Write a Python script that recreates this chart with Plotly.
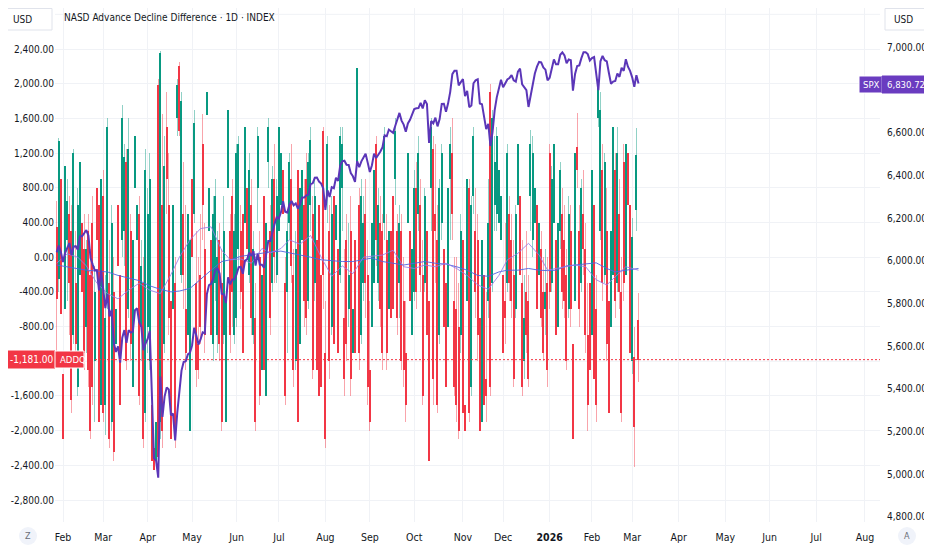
import pandas as pd
import plotly.graph_objects as go

# NASD advance/decline difference (ADDQ), daily OHLC
# trading days 2025-01-29 .. 2026-03-05
addq_open = [
    350, -250, 900,
    -1350, -600, 200, 500, 300, -900, -300, -1500, -200, 400, 100, -800, 300, -200, 400, -1200, 800, 600, -1700,
    700, -1700, -500, -300, -1900, -400, -1000, 600, -200, 200, 300, 1100, -600, 300, -1500, 800, 200, 500, -800, -300, -1800,
    -800, -1200, -1700, -2200, -2350, 1980, -1900, 600, -1000, 1500, 600, -500, -600, -300, 1600, 2200, -200, 500, -600, -900, -2000,
    900, 500, -300, -1000, -200, 1300, 100, 1640, 300, 200, -1000, -300, -900, 200, -300, -900, -1900, 800, 300, 700, -900,
    -700, 100, 300, 500, 400, 800, -200, 600, -900, -700, 800, 0, -1300, 700, -1600, 1100, 300, -300, 900, -200,
    300, 600, 1000, -300, -400, 400, 900, -200, -1200, 1000, -1000, 200, 600, 900, -500, 600, 500, -300, 200, 600, -200, 1450,
    -1100, 700, 300, -800, 700, 200, 100, -200, 800, -700, 200, -600, 300, -1100, 200, 1100, 600, -900, -300, 500, -200,
    -1300, -800, -300, 1300, -300, 400, 300, 400, 200, -600, 300, 700, 900, 300, -300, 300, -500, -1100, 400, 300, -900,
    -400, 800, 500, 600, -200, -300, 300, -500, 800, 1250, 500, 200, -900, 400, 100, -300, -800, 900, 1200, -500, -600, -800, -900,
    200, -1700, -500, 800, -1500, 700, 300, 200, -700, -1900, -200, -1400, -500, 1900, -300, 600, 500, 400, 200,
    -200, -500, -300, 500, 200, -200, -600, 600, 700, -300, -1200, -400, -500, 700, 200, 400, 600, -200, 100, -400, -600, -300,
    1200, -300, 400, 200, -800, 300, 500, 200, -200, -600, 300, -1000, -500, 1270, 300, -300, 500, 100, -900, -300,
    -900, 600, -600, 1600, 300, 1000, -200, 300, -500, -800, -200, 1000, -300, 500, -400, 1100, -200, 1200, 600,
    -1200, -1150, 540, -720,
]
addq_high = [
    650, 1370, 1150,
    400, 1180, 900, 700, 600, 1250, 300, 800, 1300, 700, 500, 200, 500, 100, 700, -100, 1500, 800, 1000,
    1000, -200, 1600, 200, 600, 0, 700, 1300, 300, 1750, 1300, 1250, 1600, 500, 400, 1450, 800, 700, 200, 0, 1250,
    800, 1200, -800, -1800, 1400, 2050, 2380, 1650, 1400, 1900, 1200, -200, 800, 0, 2050, 2250, 1900, 1100, 600, 700, 500,
    1500, 1700, 300, 0, 500, 1650, 400, 1940, 1000, 500, 700, 900, 300, 400, 100, 700, -200, 1750, 500, 900, 500,
    1300, 1400, 600, 1000, 1650, 1200, 1200, 900, 300, -300, 1500, 300, 100, 900, 600, 1600, 600, 1050, 1300, 900,
    1600, 1400, 1500, 0, 500, 1200, 1300, 100, 300, 1200, 1000, 1200, 900, 1200, 1200, 1500, 700, 900, 500, 1000, 300, 1500,
    -500, 1400, 600, 700, 1300, 900, 400, 1500, 1500, 100, 500, 400, 700, 200, 500, 2350, 800, 900, 700, 900, 200,
    -500, 600, 1100, 1400, 800, 700, 500, 1500, 500, 600, 500, 1200, 1600, 500, 600, 500, 0, -500, 1300, 600, 300,
    1000, 1100, 1400, 900, 200, 800, 600, 100, 1600, 1400, 1300, 600, 900, 1300, 300, 100, 900, 1500, 1600, 0, 0, -300, 500,
    400, -1000, 1000, 900, 700, 1500, 800, 500, -300, 800, 100, -400, 900, 2000, 1700, 1400, 1500, 1200, 900,
    300, 400, 1300, 700, 500, 200, 600, 1400, 1000, 200, -200, 300, -200, 1470, 1400, 1000, 900, 600, 300, 0, 100, 0,
    1300, 1050, 1400, 500, 500, 1100, 800, 600, 100, 700, 600, -600, 1300, 1660, 600, 900, 1000, 400, -300, 300,
    1200, 800, -200, 2050, 1900, 1300, 1200, 800, -200, 500, 1650, 1200, 1500, 900, 0, 1300, 1450, 1350, 900,
    450, -800, 1490, -410,
]
addq_low = [
    -1100, -400, -900,
    -2200, -800, -500, -900, -1800, -1000, -1200, -1600, -300, -600, -1300, -1100, -1500, -2100, -1700, -1900, -300, -2000, -1800,
    -1900, -2050, -600, -2200, -2000, -2350, -1400, -300, -1800, 0, -100, -1300, -700, -1200, -1600, 300, -400, -1700, -1200, -2200, -1900,
    -1100, -1300, -2450, -2550, -2550, -2400, -2100, -2200, -1100, 500, -900, -2200, -900, -2200, 1400, 1400, -300, -600, -1300, -1000, -2100,
    -200, 400, -1500, -1400, -1000, 200, -1100, 1470, -200, -1100, -1200, -500, -1100, -1200, -2000, -1000, -2000, 600, -1100, -800, -1000,
    -800, -100, -600, -1300, 200, -200, -300, -900, -1000, -2000, 400, -1700, -1400, -1400, -1700, 800, -900, -400, -300, -300,
    0, 0, 300, -1700, -1100, 200, -300, -1500, -1300, -2000, -1200, 0, -800, -900, -600, 300, -1400, -500, -1500, -1700, -1800, -600,
    -2200, 400, -1400, -900, -1300, -400, -1300, -300, 300, -1600, -1200, -800, -1600, -1400, -1300, 700, -1300, -1000, -500, -700, -1700,
    -2000, -900, -400, -100, -500, -800, -1300, 200, -1300, -700, -900, -900, 600, -900, -700, -1300, -1500, -1900, 200, -700, -1000,
    -500, -600, 300, -400, -1700, -400, -1100, -2450, 300, -1700, -300, -1800, -1000, 200, -1000, -1700, -900, 200, 200, -1600, -1900, -2100, -1100,
    -1900, -2200, -700, -1900, -1600, 500, -700, -1200, -2100, -2000, -1800, -1900, -700, -1600, -400, 300, 300, 200, 0,
    -1300, -1000, -400, -500, -700, -1500, -700, 300, -400, -1600, -1400, -1100, -1500, 300, 0, -100, -800, -300, -800, -1200, -900, -1500,
    -600, -400, 200, -1100, -900, 100, -600, -700, -1300, -700, -800, -2200, -700, 800, -800, -400, -200, -1100, -2000, -1500,
    -1000, -1600, -1900, 1500, 200, -500, -300, -1200, -2000, -1000, -300, -700, -400, -600, -1900, -500, -300, 400, -1300,
    -1350, -2420, 300, -1440,
]
addq_close = [
    -480, 1340, -650,
    -2100, 1050, 650, -300, -1650, 1200, -1000, 600, 1100, -400, -1100, 100, -1300, -2000, -1500, -400, 200, -1900, 900,
    -1800, -700, 1500, -2100, 400, -2250, -600, -100, -1700, 1600, 1150, -1200, 1250, -1000, 200, 1400, 600, -1600, -100, -2100, 1000,
    500, 900, -2350, -2450, -1900, -2300, 2350, -2000, 1050, 900, -700, -2100, 600, -2050, 1990, 1450, 1800, -200, -1100, 500, 200,
    0, 1550, -1300, -1300, -800, 600, -900, 1900, 800, -900, 500, 700, 0, -1000, -1900, 300, -500, 1700, -900, -400, 300,
    1200, 1300, -400, -1100, 1500, 100, 1000, -700, 100, -1900, 1400, -1600, -200, -1300, 400, 1500, -700, 900, 0, 700,
    1500, 1200, 500, -1600, 300, 1100, -100, -1300, 100, -1900, 800, 1000, -500, -700, 1100, 1350, -1300, 700, -1300, -1600, -1500, -200,
    -2100, 1300, -1200, 500, -1000, 600, -1100, 1400, 1300, -1400, -1000, -200, -1400, -600, -1100, 2180, -1100, 700, 400, -300, -1500,
    -1900, 400, 1000, 200, 600, -600, -1100, 1400, -1100, 300, -700, -600, 1450, -700, 400, -1200, -1300, -1700, 1200, -500, 100,
    800, -400, 1200, -200, -1600, 700, -900, -2350, 1500, -1400, 300, -1700, 800, 1200, -800, -1500, 800, 1300, 500, -1500, -1700, -2000, 300,
    -1800, -2000, 900, -1800, 600, 1400, -400, -900, -2000, 200, -1700, -1600, 400, -1500, 1600, 1100, 1400, 1000, 700,
    -1100, -700, 1200, -300, -500, -1400, 500, 1300, -200, -1500, -700, -900, -1400, 1300, 1200, 800, -600, 400, -700, -1100, -400, -1300,
    -400, 900, 1300, -900, 400, 1000, -400, -500, -1200, 500, -600, -2100, 1200, 1000, -600, 800, 100, -900, -1700, -1300,
    1000, -1400, -1700, 1950, 1700, -300, 1100, -1000, -1800, 300, 1500, -500, 1200, -400, -1800, -300, 1300, 600, -1100,
    230, -1960, 1177, -1181,
]

# S&P 500 close (compare series, right scale)
spx_close = [
    6039, 6071, 6040,
    5994, 6037, 6061, 6083, 6026, 6066, 6068, 6052, 6115, 6115, 6129, 6144, 6118, 6013, 5983, 5955, 5956, 5861, 5955,
    5850, 5778, 5843, 5739, 5770, 5615, 5572, 5599, 5522, 5639, 5675, 5615, 5675, 5663, 5668, 5768, 5777, 5712, 5693, 5581, 5612,
    5633, 5671, 5397, 5074, 5062, 4983, 5457, 5268, 5363, 5406, 5396, 5276, 5283, 5158, 5288, 5376, 5485, 5525, 5529, 5561, 5569,
    5604, 5686, 5650, 5607, 5631, 5664, 5660, 5844, 5886, 5892, 5917, 5958, 5964, 5940, 5845, 5842, 5802, 5922, 5889, 5912, 5912,
    5936, 5970, 5971, 5939, 6000, 6006, 6039, 6022, 6045, 5977, 6033, 5982, 5981, 5967, 6025, 6092, 6092, 6141, 6173, 6205,
    6198, 6227, 6279, 6230, 6226, 6263, 6280, 6260, 6269, 6244, 6264, 6297, 6297, 6306, 6310, 6359, 6363, 6389, 6390, 6371, 6362, 6339,
    6238, 6330, 6299, 6345, 6340, 6389, 6374, 6446, 6466, 6469, 6450, 6449, 6411, 6396, 6370, 6467, 6439, 6466, 6481, 6502, 6460,
    6416, 6448, 6502, 6482, 6495, 6512, 6532, 6588, 6584, 6615, 6607, 6600, 6632, 6664, 6693, 6657, 6638, 6605, 6644, 6661, 6688,
    6711, 6715, 6716, 6740, 6714, 6753, 6735, 6552, 6655, 6644, 6671, 6630, 6664, 6735, 6736, 6699, 6738, 6792, 6875, 6891, 6891, 6822, 6840,
    6852, 6772, 6796, 6720, 6728, 6832, 6846, 6851, 6737, 6734, 6672, 6617, 6642, 6538, 6603, 6705, 6766, 6813, 6849,
    6813, 6829, 6850, 6857, 6870, 6846, 6840, 6887, 6901, 6827, 6816, 6800, 6721, 6775, 6835, 6878, 6910, 6932, 6930, 6906, 6896, 6846,
    6858, 6902, 6944, 6921, 6921, 6966, 6977, 6963, 6926, 6944, 6940, 6797, 6876, 6913, 6916, 6950, 6978, 6978, 6969, 6939,
    6950, 6955, 6880, 6800, 6935, 6960, 6940, 6935, 6880, 6830, 6840, 6843, 6878, 6862, 6905, 6890, 6945, 6910, 6890,
    6860, 6816, 6870, 6830.72,
]

# two moving averages of ADDQ
ma_dates = [
    "2025-01-29", "2025-02-05", "2025-02-12", "2025-02-19", "2025-02-26", "2025-03-05", "2025-03-12", "2025-03-19",
    "2025-03-26", "2025-04-02", "2025-04-09", "2025-04-16", "2025-04-23", "2025-04-30", "2025-05-07", "2025-05-14",
    "2025-05-21", "2025-05-28", "2025-06-04", "2025-06-11", "2025-06-18", "2025-06-25", "2025-07-02", "2025-07-09",
    "2025-07-16", "2025-07-23", "2025-07-30", "2025-08-06", "2025-08-13", "2025-08-20", "2025-08-27", "2025-09-03",
    "2025-09-10", "2025-09-17", "2025-09-24", "2025-10-01", "2025-10-08", "2025-10-15", "2025-10-22", "2025-10-29",
    "2025-11-05", "2025-11-12", "2025-11-19", "2025-11-26", "2025-12-03", "2025-12-10", "2025-12-17", "2025-12-24",
    "2025-12-31", "2026-01-07", "2026-01-14", "2026-01-21", "2026-01-28", "2026-02-04", "2026-02-11", "2026-02-18",
    "2026-02-25", "2026-03-05",
]
ma_fast = [-70, 40, 0, -100, -300, -420, -480, -380, -300, -380,
           -420, -200, 0, 200, 330, 350, 80, -30, -20, -70,
           100, 50, 100, 200, 150, 250, 0, -220, -100, -190,
           0, 10, 25, 80, -110, -130, -90, -110, -70, -130,
           -210, -320, -370, -210, -30, 45, 160, 25, -150, -130,
           -110, -90, -110, -260, -320, -225, -110, -150]
ma_slow = [-90, -110, -130, -150, -160, -170, -210, -240, -270, -330,
           -370, -400, -390, -360, -250, -150, -50, -30, 10, 30,
           50, 60, 70, 50, 30, 0, -30, -40, -50, -50,
           -30, -10, -50, -70, -90, -70, -50, -70, -80, -110,
           -150, -210, -220, -170, -150, -150, -130, -150, -155, -150,
           -100, -90, -80, -65, -130, -170, -150, -130]

holidays = ["2025-02-17", "2025-04-18", "2025-05-26", "2025-06-19", "2025-07-04", "2025-09-01",
            "2025-11-27", "2025-12-25", "2026-01-01", "2026-01-19", "2026-02-16"]

month_ticks = ["2025-02-03", "2025-03-03", "2025-04-01", "2025-05-01", "2025-06-02", "2025-07-01",
               "2025-08-01", "2025-09-02", "2025-10-01", "2025-11-03", "2025-12-01", "2026-01-02",
               "2026-02-02", "2026-03-02", "2026-04-01", "2026-05-01", "2026-06-01", "2026-07-01", "2026-08-03"]
month_labels = ["Feb", "Mar", "Apr", "May", "Jun", "Jul", "Aug", "Sep", "Oct", "Nov", "Dec", "<b>2026</b>",
                "Feb", "Mar", "Apr", "May", "Jun", "Jul", "Aug"]

left_ticks = [-2800, -2400, -2000, -1600, -800, -400, 0, 400, 800, 1200, 1600, 2000, 2400]
right_ticks = [4800, 5000, 5200, 5400, 5600, 5800, 6000, 6200, 6400, 6600, 7000]

dates = [d for d in pd.bdate_range("2025-01-29", "2026-03-05") if d.strftime("%Y-%m-%d") not in holidays]
n = min(len(dates), len(addq_close))
dates = dates[:n]
o, h, l, c = addq_open[:n], addq_high[:n], addq_low[:n], addq_close[:n]

GREEN, RED = "#089981", "#F23645"
GREEN_L, RED_L = "rgba(8,153,129,0.45)", "rgba(242,54,69,0.45)"
PURPLE = "#5b36b8"
GRID = "#f0f2f6"
FONT = "DejaVu Sans Condensed, sans-serif"
DAY = 86400000

# the page body has an 8px margin, so the figure is laid out 8px in from the window corner
OFF = 8
W, H = 932 - OFF, 550 - OFF
ML, MR, MT, MB = 55 - OFF, 52, 0, 28
PW, PH = W - ML - MR, H - MT - MB


def px(x):  # window pixel -> paper
    return (x - OFF - ML) / PW


def py(y):
    return 1 - (y - OFF - MT) / PH


up = [cc >= oo for oo, cc in zip(o, c)]

fig = go.Figure()

# wicks
fig.add_trace(go.Bar(
    x=dates, base=l, y=[hh - ll for hh, ll in zip(h, l)], width=0.32 * DAY,
    marker=dict(color=[GREEN_L if u else RED_L for u in up], line=dict(width=0)),
    showlegend=False, hoverinfo="skip"))

# bodies
fig.add_trace(go.Bar(
    x=dates, base=[min(oo, cc) for oo, cc in zip(o, c)],
    y=[abs(cc - oo) for oo, cc in zip(o, c)], width=0.62 * DAY,
    marker=dict(color=[GREEN if u else RED for u in up], line=dict(width=0)),
    showlegend=False))

fig.add_trace(go.Scatter(x=ma_dates, y=ma_slow, mode="lines",
                         line=dict(color="rgba(80,100,225,0.9)", width=1), showlegend=False))
fig.add_trace(go.Scatter(x=ma_dates, y=ma_fast, mode="lines",
                         line=dict(color="rgba(150,125,235,0.85)", width=1), showlegend=False))

fig.add_trace(go.Scatter(x=dates, y=spx_close[:n], mode="lines", yaxis="y2",
                         line=dict(color=PURPLE, width=2), showlegend=False))

fig.update_layout(
    width=W, height=H,
    margin=dict(l=ML, r=MR, t=MT, b=MB, autoexpand=False),
    paper_bgcolor="white", plot_bgcolor="white",
    font=dict(family=FONT, size=10.5, color="#131722"),
    showlegend=False, barmode="overlay", bargap=0,
    xaxis=dict(type="date", range=["2025-01-28 05:00", "2026-08-12 03:00"],
               rangebreaks=[dict(bounds=["sat", "mon"]), dict(values=holidays)],
               tickvals=month_ticks, ticktext=month_labels, automargin=False,
               showgrid=True, gridcolor=GRID, zeroline=False, showline=False,
               ticks="", ticklabelstandoff=7, tickfont=dict(size=10.5)),
    yaxis=dict(range=[-3053, 2873], tickvals=left_ticks,
               ticktext=[f"{v:,.2f}" for v in left_ticks], automargin=False,
               showgrid=True, gridcolor=GRID, zeroline=False, showline=False,
               ticks="", tickfont=dict(size=10)),
    yaxis2=dict(range=[4775, 7185], tickvals=right_ticks, tickformat=",.2f", automargin=False,
                overlaying="y", side="right", showgrid=False, zeroline=False,
                showline=False, ticks="", ticklabelstandoff=6, tickfont=dict(size=10)),
)

# grid lines whose labels sit under the tags
for gy in (2800, -1200):
    fig.add_shape(type="line", xref="paper", yref="y", x0=0, x1=1, y0=gy, y1=gy,
                  layer="below", line=dict(color=GRID, width=1))

# last-value line for ADDQ
fig.add_shape(type="line", xref="paper", yref="y", x0=0, x1=1, y0=-1181, y1=-1181,
              line=dict(color=RED, width=1, dash="2px,2px"))

shapes = [
    # USD buttons
    dict(x0=4, x1=52, y0=8.5, y1=30, fill="white", line="#e0e3eb"),
    dict(x0=885, x1=929, y0=8.5, y1=30, fill="white", line="#e0e3eb"),
    # ADDQ last value tags
    dict(x0=4, x1=55, y0=351, y1=368, fill=RED, line=RED),
    dict(x0=55, x1=84, y0=351, y1=368, fill=RED, line="white"),
    # SPX last value tags
    dict(x0=859, x1=882, y0=76, y1=93, fill="#6a3cc0", line="white"),
    dict(x0=882, x1=929, y0=76, y1=93, fill="#6a3cc0", line="#6a3cc0"),
]
for s in shapes:
    fig.add_shape(type="rect", xref="paper", yref="paper", layer="above",
                  x0=px(s["x0"]), x1=px(s["x1"]), y0=py(s["y1"]), y1=py(s["y0"]),
                  fillcolor=s["fill"], line=dict(color=s["line"], width=1))

for cx in (28, 907):
    fig.add_shape(type="circle", xref="paper", yref="paper", layer="above",
                  x0=px(cx - 9), x1=px(cx + 9), y0=py(545), y1=py(527),
                  fillcolor="#f0f3fa", line=dict(width=0))

texts = [
    (62, 17, "NASD Advance Decline Difference · 1D · INDEX", "left", "#131722", 10),
    (11, 19, "USD", "left", "#131722", 10),
    (892, 19, "USD", "left", "#131722", 10),
    (8, 359.5, "-1,181.00", "left", "white", 10),
    (57.5, 359.5, "ADDQ", "left", "white", 9.5),
    (861, 84.5, "SPX", "left", "white", 9.5),
    (885, 84.5, "6,830.72", "left", "white", 9.5),
    (28, 536, "Z", "center", "#6a6d78", 9),
    (907, 536, "A", "center", "#6a6d78", 9),
]
for x, y, t, anchor, col, size in texts:
    fig.add_annotation(x=px(x), y=py(y), xref="paper", yref="paper", text=t, showarrow=False,
                       xanchor=anchor, yanchor="middle", font=dict(color=col, size=size, family=FONT))

fig.write_html("out.html")
